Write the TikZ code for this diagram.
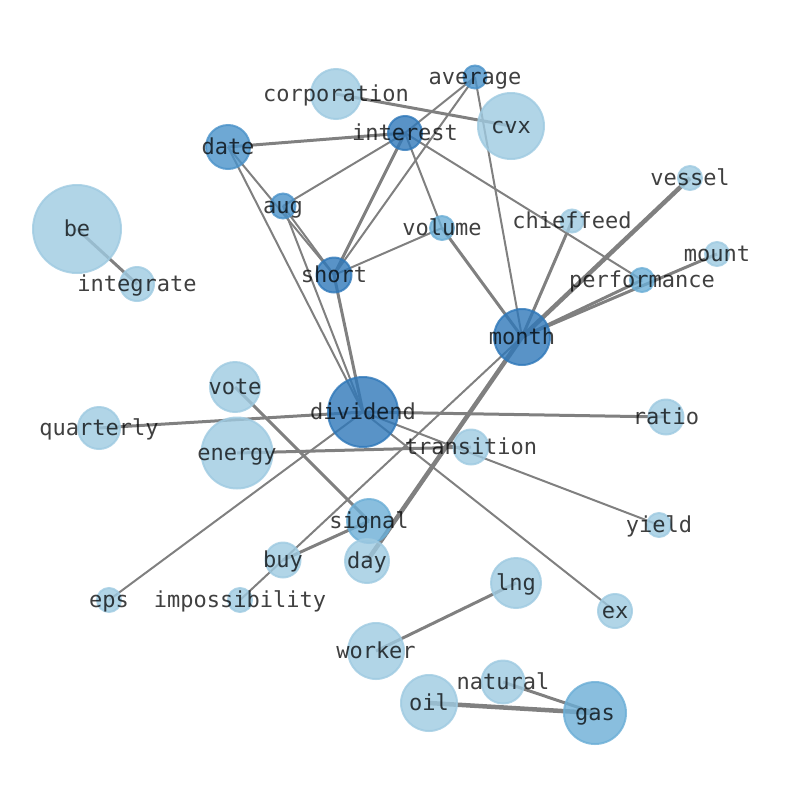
\documentclass[tikz,border=0pt]{standalone}
\usepackage{fontspec}
\newfontfamily\lblfont{DejaVu Sans Mono}
\usepackage{xcolor}
\usepackage{tikz}
\usetikzlibrary{backgrounds}

\definecolor{paleblue}{HTML}{9ECAE1}
\definecolor{softblue}{HTML}{6BAED6}
\definecolor{midblue}{HTML}{4A92C9}
\definecolor{deepblue}{HTML}{2F78B9}

\begin{document}
\begin{tikzpicture}[
        x=1pt, y=-1pt,
        vtx/.style={circle, inner sep=0pt, draw=#1, fill=#1, opacity=0.8, line width=2pt},
        pale/.style={vtx=paleblue},
        soft/.style={vtx=softblue},
        mid/.style={vtx=midblue},
        deep/.style={vtx=deepblue},
        lbl/.style={rectangle, inner sep=0pt, font=\lblfont\fontsize{22pt}{26pt}\selectfont,
            text=black, text opacity=0.75, text height=16.7pt, text depth=5.3pt, yshift=-2pt},
        link/.style={draw=gray, line width=2pt},
        weak/.style={link},
        medium/.style={link, line width=3pt},
        strong/.style={link, line width=4.5pt}
    ]
        \useasboundingbox (0,0) rectangle (794,790);

        % word nodes
        \node[mid,  minimum size=23pt] (average) at (475,77) {};
        \node[pale, minimum size=50pt] (corporation) at (336,94) {};
        \node[pale, minimum size=66pt] (cvx) at (511,126) {};
        \node[deep, minimum size=34pt] (interest) at (405,133) {};
        \node[mid,  minimum size=44pt] (date) at (228,147) {};
        \node[mid,  minimum size=25pt] (aug) at (283,206) {};
        \node[pale, minimum size=88pt] (be) at (77,229) {};
        \node[pale, minimum size=34pt] (integrate) at (137,284) {};
        \node[soft, minimum size=24pt] (volume) at (442,228) {};
        \node[pale, minimum size=23pt] (chieffeed) at (572,221) {};
        \node[pale, minimum size=24pt] (vessel) at (690,178) {};
        \node[pale, minimum size=24pt] (mount) at (717,254) {};
        \node[soft, minimum size=24pt] (performance) at (642,280) {};
        \node[deep, minimum size=35pt] (short) at (334,275) {};
        \node[deep, minimum size=56pt] (month) at (522,337) {};
        \node[pale, minimum size=50pt] (vote) at (235,387) {};
        \node[deep, minimum size=70pt] (dividend) at (363,412) {};
        \node[pale, minimum size=42pt] (quarterly) at (99,428) {};
        \node[pale, minimum size=35pt] (ratio) at (666,417) {};
        \node[pale, minimum size=71pt] (energy) at (237,453) {};
        \node[pale, minimum size=35pt] (transition) at (471,447) {};
        \node[soft, minimum size=44pt] (signal) at (369,521) {};
        \node[pale, minimum size=24pt] (yield) at (659,525) {};
        \node[pale, minimum size=35pt] (buy) at (283,560) {};
        \node[pale, minimum size=44pt] (day) at (367,561) {};
        \node[pale, minimum size=24pt] (eps) at (109,600) {};
        \node[pale, minimum size=24pt] (impossibility) at (240,600) {};
        \node[pale, minimum size=50pt] (lng) at (516,583) {};
        \node[pale, minimum size=34pt] (ex) at (615,611) {};
        \node[pale, minimum size=56pt] (worker) at (376,651) {};
        \node[pale, minimum size=43pt] (natural) at (503,682) {};
        \node[pale, minimum size=56pt] (oil) at (429,703) {};
        \node[soft, minimum size=62pt] (gas) at (595,713) {};

        % links, under the nodes
        \begin{scope}[on background layer]
            \draw[medium] (be.center) -- (integrate.center);
            \draw[medium] (corporation.center) -- (cvx.center);
            \draw[weak] (average.center) -- (interest.center);
            \draw[weak] (average.center) -- (short.center);
            \draw[weak] (average.center) -- (month.center);
            \draw[medium] (date.center) -- (interest.center);
            \draw[weak] (date.center) -- (short.center);
            \draw[weak] (date.center) -- (dividend.center);
            \draw[weak] (aug.center) -- (interest.center);
            \draw[weak] (aug.center) -- (short.center);
            \draw[weak] (aug.center) -- (dividend.center);
            \draw[medium] (short.center) -- (interest.center);
            \draw[weak] (short.center) -- (volume.center);
            \draw[medium] (short.center) -- (dividend.center);
            \draw[weak] (interest.center) -- (volume.center);
            \draw[weak] (interest.center) -- (performance.center);
            \draw[medium] (volume.center) -- (month.center);
            \draw[medium] (month.center) -- (chieffeed.center);
            \draw[strong] (month.center) -- (vessel.center);
            \draw[medium] (month.center) -- (performance.center);
            \draw[medium] (month.center) -- (mount.center);
            \draw[strong] (month.center) -- (day.center);
            \draw[weak] (month.center) -- (buy.center);
            \draw[medium] (buy.center) -- (signal.center);
            \draw[weak] (buy.center) -- (impossibility.center);
            \draw[medium] (vote.center) -- (signal.center);
            \draw[medium] (quarterly.center) -- (dividend.center);
            \draw[medium] (energy.center) -- (transition.center);
            \draw[medium] (dividend.center) -- (ratio.center);
            \draw[weak] (dividend.center) -- (yield.center);
            \draw[weak] (dividend.center) -- (ex.center);
            \draw[weak] (eps.center) -- (dividend.center);
            \draw[medium] (lng.center) -- (worker.center);
            \draw[strong] (oil.center) -- (gas.center);
            \draw[medium] (natural.center) -- (gas.center);
        \end{scope}

        % words on top
        \foreach \w in {average,corporation,cvx,interest,date,aug,be,integrate,volume,
                chieffeed,vessel,mount,performance,short,month,vote,dividend,quarterly,
                ratio,energy,transition,signal,yield,buy,day,eps,impossibility,lng,ex,
                worker,natural,oil,gas}
            \node[lbl] (\w-txt) at (\w) {\w};
    \end{tikzpicture}
\end{document}
